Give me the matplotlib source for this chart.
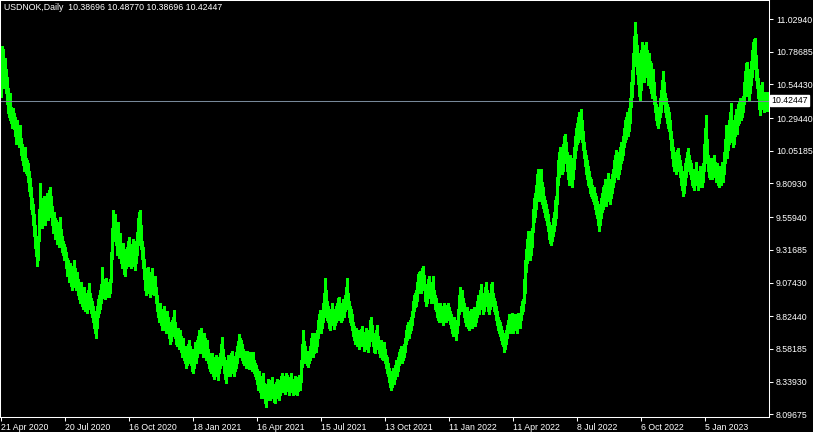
import numpy as np
import matplotlib
matplotlib.use("Agg")
import matplotlib.pyplot as plt
import matplotlib.transforms as mtransforms

# USDNOK daily bars (low / high), one per trading day
lows = [
    10.45, 10.58, 10.60, 10.52, 10.55, 10.48, 10.40, 10.33, 10.30, 10.28,
    10.26, 10.22, 10.25, 10.21, 10.16, 10.10, 10.14, 10.12, 10.08, 10.10,
    10.02, 9.98, 9.95, 9.90, 9.93, 9.89, 9.87, 9.82, 9.75, 9.72,
    9.62, 9.58, 9.50, 9.42, 9.33, 9.27, 9.20, 9.24, 9.38, 9.52,
    9.50, 9.48, 9.52, 9.56, 9.50, 9.55, 9.58, 9.54, 9.60, 9.62,
    9.56, 9.50, 9.44, 9.46, 9.40, 9.42, 9.36, 9.38, 9.34, 9.40,
    9.34, 9.30, 9.28, 9.24, 9.25, 9.18, 9.12, 9.14, 9.08, 9.10,
    9.05, 9.02, 9.06, 9.10, 9.04, 9.02, 9.05, 8.98, 8.95, 8.92,
    8.96, 8.90, 8.88, 8.92, 8.86, 8.89, 8.85, 8.90, 8.94, 8.88,
    8.85, 8.82, 8.78, 8.74, 8.70, 8.66, 8.74, 8.82, 8.85, 8.88,
    8.92, 8.98, 8.96, 8.98, 8.95, 9.00, 8.97, 8.99, 8.97, 9.00,
    9.08, 9.25, 9.40, 9.38, 9.42, 9.35, 9.28, 9.30, 9.26, 9.30,
    9.22, 9.18, 9.22, 9.14, 9.12, 9.18, 9.20, 9.22, 9.25, 9.20,
    9.18, 9.22, 9.26, 9.20, 9.17, 9.22, 9.28, 9.35, 9.40, 9.42,
    9.32, 9.25, 9.18, 9.10, 9.02, 8.98, 9.04, 9.06, 9.00, 8.97,
    9.02, 9.05, 8.99, 8.98, 9.00, 8.92, 8.86, 8.82, 8.78, 8.80,
    8.76, 8.72, 8.74, 8.78, 8.72, 8.70, 8.74, 8.70, 8.66, 8.62,
    8.64, 8.68, 8.72, 8.75, 8.66, 8.62, 8.60, 8.62, 8.58, 8.60,
    8.56, 8.52, 8.55, 8.50, 8.48, 8.44, 8.46, 8.50, 8.52, 8.48,
    8.46, 8.42, 8.40, 8.44, 8.50, 8.48, 8.52, 8.56, 8.58, 8.55,
    8.58, 8.55, 8.52, 8.56, 8.54, 8.50, 8.52, 8.48, 8.44, 8.42,
    8.40, 8.44, 8.38, 8.36, 8.40, 8.42, 8.38, 8.35, 8.40, 8.44,
    8.48, 8.52, 8.46, 8.40, 8.36, 8.33, 8.38, 8.42, 8.40, 8.38,
    8.42, 8.45, 8.40, 8.38, 8.42, 8.44, 8.48, 8.52, 8.56, 8.54,
    8.52, 8.50, 8.48, 8.46, 8.48, 8.44, 8.46, 8.44, 8.43, 8.46,
    8.44, 8.42, 8.44, 8.40, 8.38, 8.36, 8.32, 8.28, 8.30, 8.26,
    8.22, 8.25, 8.28, 8.22, 8.18, 8.15, 8.20, 8.24, 8.22, 8.20,
    8.24, 8.26, 8.22, 8.19, 8.18, 8.22, 8.25, 8.22, 8.20, 8.24,
    8.27, 8.30, 8.26, 8.28, 8.25, 8.28, 8.30, 8.27, 8.24, 8.26,
    8.29, 8.27, 8.24, 8.26, 8.28, 8.25, 8.24, 8.27, 8.30, 8.28,
    8.34, 8.45, 8.52, 8.50, 8.48, 8.50, 8.46, 8.45, 8.48, 8.50,
    8.54, 8.56, 8.52, 8.55, 8.58, 8.56, 8.60, 8.66, 8.70, 8.72,
    8.70, 8.74, 8.78, 8.82, 8.86, 8.84, 8.80, 8.78, 8.74, 8.72,
    8.76, 8.80, 8.76, 8.73, 8.76, 8.78, 8.80, 8.82, 8.84, 8.80,
    8.78, 8.80, 8.84, 8.82, 8.86, 8.90, 8.94, 8.88, 8.82, 8.78,
    8.76, 8.72, 8.68, 8.65, 8.62, 8.64, 8.60, 8.62, 8.58, 8.60,
    8.62, 8.64, 8.60, 8.57, 8.60, 8.62, 8.58, 8.56, 8.60, 8.66,
    8.68, 8.64, 8.60, 8.56, 8.55, 8.58, 8.62, 8.58, 8.55, 8.52,
    8.54, 8.51, 8.50, 8.52, 8.48, 8.44, 8.40, 8.38, 8.34, 8.30,
    8.28, 8.30, 8.34, 8.32, 8.36, 8.40, 8.38, 8.42, 8.46, 8.48,
    8.50, 8.48, 8.50, 8.52, 8.56, 8.62, 8.65, 8.68, 8.66, 8.70,
    8.72, 8.76, 8.82, 8.86, 8.89, 8.90, 8.94, 9.00, 9.02, 9.04,
    9.00, 9.04, 9.06, 9.02, 8.94, 8.90, 8.92, 8.96, 9.00, 8.96,
    8.92, 8.94, 8.98, 8.92, 8.88, 8.86, 8.82, 8.80, 8.78, 8.82,
    8.80, 8.78, 8.76, 8.80, 8.82, 8.78, 8.80, 8.83, 8.80, 8.77,
    8.74, 8.70, 8.68, 8.72, 8.68, 8.65, 8.70, 8.76, 8.84, 8.88,
    8.86, 8.90, 8.86, 8.82, 8.78, 8.75, 8.78, 8.74, 8.72, 8.76,
    8.78, 8.74, 8.76, 8.79, 8.75, 8.78, 8.82, 8.86, 8.84, 8.88,
    8.92, 8.88, 8.84, 8.86, 8.90, 8.94, 8.90, 8.86, 8.84, 8.88,
    8.92, 8.96, 8.90, 8.86, 8.84, 8.80, 8.76, 8.72, 8.70, 8.68,
    8.65, 8.62, 8.60, 8.56, 8.58, 8.62, 8.66, 8.70, 8.72, 8.70,
    8.72, 8.74, 8.70, 8.72, 8.75, 8.72, 8.70, 8.74, 8.76, 8.74,
    8.80, 8.84, 8.86, 8.92, 9.00, 9.15, 9.22, 9.26, 9.30, 9.24,
    9.28, 9.34, 9.45, 9.52, 9.56, 9.62, 9.70, 9.72, 9.68, 9.70,
    9.74, 9.66, 9.63, 9.60, 9.56, 9.54, 9.50, 9.46, 9.40, 9.37,
    9.35, 9.38, 9.42, 9.46, 9.50, 9.55, 9.66, 9.80, 9.86, 9.90,
    9.92, 9.88, 9.90, 9.96, 10.02, 9.98, 9.90, 9.84, 9.80, 9.86,
    9.82, 9.78, 9.84, 9.92, 10.00, 10.06, 10.10, 10.12, 10.16, 10.14,
    10.18, 10.12, 10.06, 10.00, 9.94, 9.88, 9.84, 9.80, 9.78, 9.74,
    9.72, 9.70, 9.68, 9.66, 9.62, 9.58, 9.55, 9.50, 9.46, 9.50,
    9.55, 9.60, 9.62, 9.66, 9.68, 9.64, 9.68, 9.72, 9.70, 9.66,
    9.70, 9.74, 9.78, 9.82, 9.86, 9.90, 9.86, 9.84, 9.88, 9.92,
    9.96, 9.98, 10.02, 10.08, 10.12, 10.14, 10.18, 10.16, 10.20, 10.26,
    10.38, 10.45, 10.55, 10.68, 10.78, 10.70, 10.62, 10.55, 10.46, 10.43,
    10.50, 10.58, 10.60, 10.56, 10.62, 10.66, 10.60, 10.54, 10.58, 10.52,
    10.48, 10.44, 10.46, 10.40, 10.34, 10.28, 10.24, 10.22, 10.26, 10.30,
    10.34, 10.40, 10.46, 10.40, 10.34, 10.30, 10.26, 10.22, 10.20, 10.14,
    10.06, 10.00, 9.94, 9.90, 9.92, 9.88, 9.94, 9.96, 9.90, 9.86,
    9.80, 9.76, 9.72, 9.74, 9.80, 9.86, 9.90, 9.94, 9.90, 9.88,
    9.84, 9.80, 9.78, 9.76, 9.80, 9.84, 9.80, 9.76, 9.78, 9.82,
    9.80, 9.78, 9.82, 9.90, 10.00, 10.06, 9.96, 9.90, 9.86, 9.84,
    9.88, 9.84, 9.86, 9.90, 9.86, 9.82, 9.84, 9.80, 9.78, 9.82,
    9.80, 9.84, 9.82, 9.88, 9.96, 10.04, 10.00, 10.06, 10.10, 10.14,
    10.18, 10.12, 10.08, 10.10, 10.16, 10.20, 10.18, 10.24, 10.26, 10.30,
    10.28, 10.30, 10.34, 10.40, 10.46, 10.50, 10.52, 10.46, 10.42, 10.48,
    10.54, 10.60, 10.66, 10.70, 10.68, 10.58, 10.52, 10.44, 10.36, 10.32,
    10.38, 10.42, 10.36, 10.34, 10.38, 10.36, 10.35, 10.38696,
]
highs = [
    10.79, 10.83, 10.81, 10.70, 10.74, 10.66, 10.60, 10.52, 10.45, 10.48,
    10.38, 10.35, 10.37, 10.33, 10.30, 10.27, 10.28, 10.24, 10.21, 10.24,
    10.15, 10.10, 10.06, 10.04, 10.08, 10.00, 9.98, 9.96, 9.90, 9.85,
    9.78, 9.70, 9.66, 9.58, 9.50, 9.42, 9.35, 9.40, 9.62, 9.81,
    9.65, 9.62, 9.70, 9.72, 9.66, 9.70, 9.74, 9.72, 9.76, 9.78,
    9.72, 9.64, 9.58, 9.60, 9.55, 9.54, 9.50, 9.52, 9.48, 9.56,
    9.47, 9.42, 9.38, 9.36, 9.34, 9.30, 9.26, 9.24, 9.20, 9.22,
    9.16, 9.14, 9.20, 9.24, 9.18, 9.12, 9.15, 9.10, 9.06, 9.04,
    9.08, 9.02, 8.98, 9.04, 8.98, 9.00, 8.96, 9.02, 9.07, 9.00,
    8.96, 8.94, 8.90, 8.86, 8.82, 8.80, 8.90, 8.95, 8.98, 9.02,
    9.06, 9.19, 9.10, 9.08, 9.06, 9.11, 9.08, 9.06, 9.04, 9.10,
    9.30, 9.48, 9.61, 9.55, 9.58, 9.50, 9.45, 9.52, 9.40, 9.44,
    9.36, 9.32, 9.37, 9.28, 9.25, 9.32, 9.34, 9.38, 9.41, 9.35,
    9.30, 9.36, 9.40, 9.33, 9.30, 9.38, 9.45, 9.55, 9.60, 9.61,
    9.50, 9.38, 9.34, 9.25, 9.18, 9.12, 9.16, 9.19, 9.12, 9.08,
    9.15, 9.18, 9.10, 9.08, 9.12, 9.04, 8.98, 8.92, 8.90, 8.92,
    8.88, 8.85, 8.86, 8.90, 8.83, 8.80, 8.86, 8.82, 8.78, 8.74,
    8.76, 8.80, 8.82, 8.87, 8.78, 8.72, 8.70, 8.74, 8.68, 8.72,
    8.68, 8.64, 8.66, 8.60, 8.58, 8.56, 8.60, 8.62, 8.65, 8.60,
    8.58, 8.55, 8.52, 8.58, 8.63, 8.60, 8.65, 8.68, 8.72, 8.66,
    8.74, 8.66, 8.64, 8.70, 8.66, 8.62, 8.65, 8.58, 8.55, 8.52,
    8.50, 8.55, 8.48, 8.46, 8.52, 8.54, 8.48, 8.46, 8.52, 8.55,
    8.62, 8.67, 8.58, 8.52, 8.48, 8.44, 8.50, 8.54, 8.52, 8.48,
    8.55, 8.57, 8.50, 8.48, 8.53, 8.56, 8.60, 8.64, 8.69, 8.66,
    8.65, 8.62, 8.58, 8.57, 8.56, 8.54, 8.57, 8.52, 8.54, 8.56,
    8.55, 8.52, 8.56, 8.50, 8.48, 8.46, 8.43, 8.40, 8.42, 8.36,
    8.34, 8.38, 8.40, 8.33, 8.28, 8.26, 8.32, 8.36, 8.34, 8.30,
    8.35, 8.37, 8.32, 8.30, 8.28, 8.34, 8.36, 8.33, 8.30, 8.35,
    8.38, 8.40, 8.36, 8.38, 8.34, 8.40, 8.39, 8.36, 8.34, 8.37,
    8.40, 8.36, 8.33, 8.35, 8.38, 8.34, 8.32, 8.37, 8.39, 8.36,
    8.50, 8.62, 8.72, 8.64, 8.60, 8.57, 8.56, 8.54, 8.57, 8.60,
    8.66, 8.70, 8.64, 8.66, 8.70, 8.68, 8.72, 8.80, 8.84, 8.87,
    8.82, 8.86, 8.92, 9.00, 9.11, 9.02, 8.94, 8.90, 8.86, 8.84,
    8.88, 8.92, 8.86, 8.84, 8.88, 8.90, 8.92, 8.96, 8.97, 8.92,
    8.88, 8.92, 8.95, 8.94, 8.98, 9.04, 9.11, 9.00, 8.94, 8.90,
    8.88, 8.84, 8.78, 8.75, 8.72, 8.74, 8.70, 8.72, 8.68, 8.72,
    8.73, 8.75, 8.70, 8.68, 8.71, 8.74, 8.68, 8.66, 8.72, 8.80,
    8.82, 8.76, 8.70, 8.68, 8.66, 8.72, 8.76, 8.68, 8.64, 8.62,
    8.65, 8.62, 8.60, 8.63, 8.58, 8.54, 8.52, 8.48, 8.44, 8.42,
    8.38, 8.40, 8.44, 8.42, 8.46, 8.50, 8.48, 8.52, 8.56, 8.58,
    8.60, 8.57, 8.60, 8.62, 8.66, 8.72, 8.76, 8.78, 8.76, 8.80,
    8.82, 8.86, 8.94, 8.98, 9.00, 9.02, 9.08, 9.14, 9.15, 9.16,
    9.12, 9.18, 9.20, 9.13, 9.06, 9.02, 9.05, 9.10, 9.12, 9.06,
    9.04, 9.08, 9.12, 9.02, 8.98, 8.96, 8.92, 8.90, 8.88, 8.92,
    8.90, 8.88, 8.86, 8.92, 8.90, 8.88, 8.91, 8.92, 8.89, 8.86,
    8.84, 8.80, 8.78, 8.82, 8.76, 8.75, 8.80, 8.88, 8.98, 9.04,
    8.98, 9.02, 8.96, 8.92, 8.88, 8.86, 8.89, 8.84, 8.82, 8.86,
    8.88, 8.84, 8.87, 8.89, 8.85, 8.88, 8.94, 8.98, 8.95, 9.02,
    9.06, 9.00, 8.94, 8.98, 9.04, 9.08, 9.02, 8.96, 8.94, 9.00,
    9.06, 9.08, 9.00, 8.96, 8.94, 8.90, 8.86, 8.82, 8.80, 8.78,
    8.75, 8.72, 8.70, 8.66, 8.68, 8.72, 8.76, 8.80, 8.84, 8.80,
    8.82, 8.85, 8.80, 8.82, 8.84, 8.81, 8.80, 8.85, 8.84, 8.83,
    8.90, 8.94, 8.95, 9.10, 9.24, 9.32, 9.40, 9.46, 9.46, 9.38,
    9.42, 9.48, 9.62, 9.70, 9.74, 9.80, 9.88, 9.92, 9.85, 9.90,
    9.92, 9.82, 9.78, 9.72, 9.69, 9.66, 9.62, 9.58, 9.52, 9.48,
    9.46, 9.50, 9.55, 9.60, 9.69, 9.72, 9.86, 9.98, 10.04, 10.08,
    10.06, 10.02, 10.10, 10.16, 10.18, 10.12, 10.04, 9.98, 9.94, 10.02,
    9.98, 9.92, 10.00, 10.08, 10.16, 10.22, 10.26, 10.30, 10.34, 10.30,
    10.36, 10.28, 10.20, 10.12, 10.06, 10.02, 9.98, 9.94, 9.90, 9.86,
    9.84, 9.80, 9.78, 9.78, 9.74, 9.72, 9.68, 9.64, 9.60, 9.66,
    9.70, 9.74, 9.78, 9.80, 9.84, 9.78, 9.82, 9.89, 9.84, 9.80,
    9.84, 9.88, 9.92, 9.98, 10.02, 10.06, 10.00, 9.96, 10.04, 10.08,
    10.12, 10.10, 10.16, 10.22, 10.28, 10.30, 10.34, 10.32, 10.37, 10.44,
    10.56, 10.65, 10.78, 10.90, 11.01, 10.92, 10.84, 10.78, 10.70, 10.62,
    10.80, 10.86, 10.84, 10.76, 10.82, 10.86, 10.80, 10.74, 10.78, 10.72,
    10.70, 10.62, 10.66, 10.56, 10.46, 10.40, 10.36, 10.34, 10.38, 10.44,
    10.50, 10.58, 10.64, 10.56, 10.48, 10.44, 10.40, 10.38, 10.34, 10.28,
    10.20, 10.14, 10.08, 10.02, 10.04, 10.00, 10.06, 10.07, 10.02, 9.98,
    9.94, 9.90, 9.84, 9.88, 9.96, 10.00, 10.04, 10.07, 10.02, 9.98,
    9.96, 9.92, 9.88, 9.86, 9.92, 9.97, 9.90, 9.86, 9.90, 9.94,
    9.92, 9.88, 9.96, 10.10, 10.22, 10.32, 10.14, 10.02, 9.98, 9.96,
    10.00, 9.96, 9.98, 10.02, 9.97, 9.94, 9.96, 9.92, 9.88, 9.94,
    9.90, 9.97, 9.94, 10.04, 10.14, 10.24, 10.16, 10.22, 10.28, 10.34,
    10.41, 10.28, 10.22, 10.26, 10.32, 10.36, 10.34, 10.40, 10.42, 10.44,
    10.40, 10.44, 10.46, 10.56, 10.64, 10.70, 10.71, 10.62, 10.58, 10.66,
    10.72, 10.80, 10.86, 10.88, 10.89, 10.76, 10.66, 10.59, 10.50, 10.46,
    10.54, 10.56, 10.48, 10.46, 10.49, 10.46, 10.47, 10.48770,
]

date_labels = ["21 Apr 2020", "20 Jul 2020", "16 Oct 2020", "18 Jan 2021",
               "16 Apr 2021", "15 Jul 2021", "13 Oct 2021", "11 Jan 2022",
               "11 Apr 2022", "8 Jul 2022", "6 Oct 2022", "5 Jan 2023"]
price_ticks = [11.02940, 10.78685, 10.54430, 10.29440, 10.05185, 9.80930,
               9.55940, 9.31685, 9.07430, 8.82440, 8.58185, 8.33930, 8.09675]
bid = 10.42447
header = "USDNOK,Daily  10.38696 10.48770 10.38696 10.42447"

font = "Liberation Sans"
W, H = 813, 432

fig = plt.figure(figsize=(W / 100, H / 100), dpi=100, facecolor="black")
ax = fig.add_axes([0, 15 / H, 769 / W, 417 / H], facecolor="black")

x = np.arange(len(lows))
ax.vlines(x, lows, highs, colors="#00ff00", linewidth=0.75, antialiased=False)

# bid line
ax.axhline(bid, color="#778899", linewidth=0.75)

ax.set_xlim(-0.5, 768.5)
ax.set_ylim(8.0769, 11.1704)

for s in ax.spines.values():
    s.set_color("white")
    s.set_linewidth(0.75)

# right price scale
ax.yaxis.tick_right()
ax.set_yticks(price_ticks)
ax.set_yticklabels([f"{v:.5f}" for v in price_ticks])
ax.tick_params(axis="y", colors="white", length=3, width=0.75, pad=2,
               labelsize=6.3, labelcolor="white")

# bottom date scale, one label every 64 bars
ax.set_xticks(np.arange(len(date_labels)) * 64)
ax.set_xticklabels(date_labels)
ax.tick_params(axis="x", colors="white", length=3, width=0.75, pad=1,
               labelsize=6.3, labelcolor="white")
for lab in ax.get_xticklabels():
    lab.set_horizontalalignment("left")
for lab in ax.get_xticklabels() + ax.get_yticklabels():
    lab.set_fontfamily(font)

# current price box on the scale
trans = mtransforms.blended_transform_factory(ax.transAxes, ax.transData)
ax.text(1.003, bid, f"{bid:.5f}", transform=trans, ha="left", va="center",
        fontsize=6.3, family=font, color="black",
        bbox=dict(boxstyle="square,pad=0.15", facecolor="white", edgecolor="white"))

ax.text(0.005, 0.993, header, transform=ax.transAxes, ha="left", va="top",
        fontsize=6.3, family=font, color="white")

fig.savefig("out.png", dpi=100, facecolor="black")
